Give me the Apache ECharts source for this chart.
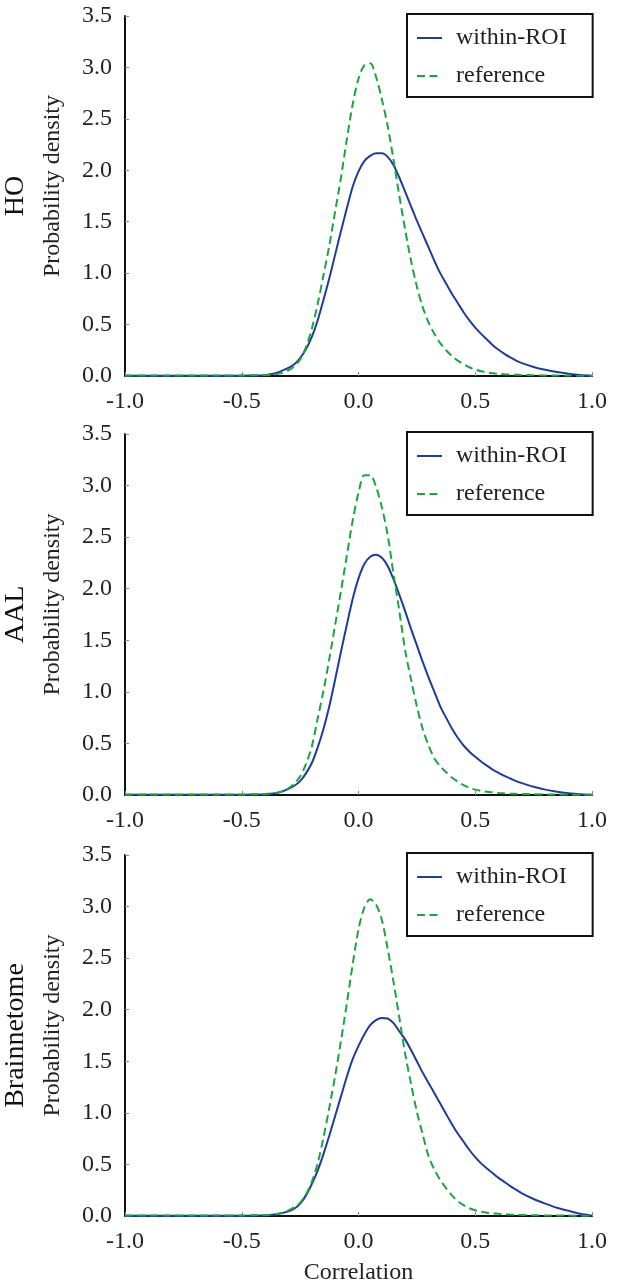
<!DOCTYPE html>
<html>
<head>
<meta charset="utf-8">
<script src="https://cdn.jsdelivr.net/npm/echarts@6/dist/echarts.min.js"></script>
<style>
html,body{margin:0;padding:0;background:#fff;}
#chart{width:618px;height:1284px;}
</style>
</head>
<body>
<div id="chart"></div>
<script>
// Shared correlation grid (x values)
const xs = [-1.0, -0.9, -0.8, -0.7, -0.6, -0.5, -0.45,
  -0.4, -0.375, -0.35, -0.325, -0.3, -0.275, -0.25, -0.225, -0.2, -0.175,
  -0.15, -0.125, -0.1, -0.075, -0.05, -0.025, 0, 0.025, 0.05, 0.075,
  0.1, 0.125, 0.15, 0.175, 0.2, 0.225, 0.25, 0.275, 0.3, 0.325,
  0.35, 0.375, 0.4, 0.425, 0.45, 0.475, 0.5, 0.525, 0.55, 0.575,
  0.6, 0.625, 0.65, 0.675, 0.7,
  0.75, 0.8, 0.85, 0.9, 0.95, 1.0];

const panelNames = ['HO', 'AAL', 'Brainnetome'];
const seriesNames = ['within-ROI', 'reference'];

const hoWithin = [0.003,0.003,0.003,0.003,0.003,0.003,0.004,
  0.008,0.018,0.032,0.055,0.08,0.115,0.175,0.26,0.38,0.54,
  0.74,0.95,1.18,1.41,1.63,1.84,1.99,2.09,2.14,2.165,
  2.165,2.13,2.05,1.93,1.79,1.65,1.51,1.38,1.25,1.12,
  1.00,0.90,0.80,0.71,0.62,0.54,0.47,0.41,0.355,0.30,
  0.255,0.215,0.18,0.15,0.125,
  0.088,0.06,0.038,0.022,0.01,0.002];
const hoRef = [0.005,0.005,0.005,0.005,0.005,0.005,0.007,
  0.01,0.013,0.02,0.033,0.055,0.095,0.16,0.28,0.46,0.70,
  0.98,1.27,1.60,1.93,2.30,2.64,2.89,3.02,3.04,2.91,
  2.69,2.43,2.10,1.75,1.42,1.12,0.87,0.67,0.52,0.41,
  0.32,0.25,0.195,0.15,0.115,0.085,0.062,0.046,0.035,0.027,
  0.021,0.017,0.014,0.012,0.01,
  0.008,0.006,0.005,0.004,0.003,0.003];

const aalWithin = [0.003,0.003,0.003,0.003,0.003,0.003,0.004,
  0.006,0.012,0.02,0.035,0.06,0.09,0.135,0.21,0.31,0.46,
  0.64,0.86,1.12,1.39,1.65,1.90,2.10,2.24,2.31,2.33,
  2.30,2.22,2.09,1.94,1.78,1.61,1.45,1.29,1.14,1.00,
  0.86,0.75,0.645,0.555,0.48,0.42,0.37,0.325,0.285,0.245,
  0.215,0.185,0.16,0.135,0.115,
  0.08,0.052,0.032,0.018,0.008,0.002];
const aalRef = [0.005,0.005,0.005,0.005,0.005,0.005,0.007,
  0.01,0.014,0.022,0.038,0.065,0.11,0.18,0.30,0.47,0.74,
  1.01,1.32,1.65,1.98,2.32,2.66,2.93,3.10,3.10,2.99,
  2.79,2.52,2.14,1.78,1.40,1.12,0.86,0.64,0.48,0.355,
  0.28,0.22,0.17,0.13,0.095,0.07,0.052,0.04,0.031,0.025,
  0.02,0.016,0.013,0.011,0.01,
  0.008,0.006,0.005,0.004,0.003,0.003];

const brWithin = [0.003,0.003,0.003,0.003,0.003,0.003,0.004,
  0.006,0.01,0.017,0.03,0.045,0.07,0.12,0.20,0.31,0.44,
  0.60,0.78,0.97,1.16,1.35,1.52,1.65,1.76,1.85,1.90,
  1.92,1.915,1.87,1.79,1.71,1.61,1.50,1.39,1.29,1.19,
  1.09,0.99,0.89,0.80,0.72,0.64,0.57,0.51,0.46,0.415,
  0.37,0.33,0.29,0.255,0.22,
  0.165,0.12,0.08,0.05,0.022,0.003];
const brRef = [0.005,0.005,0.005,0.005,0.005,0.005,0.007,
  0.01,0.013,0.02,0.033,0.055,0.085,0.13,0.21,0.33,0.51,
  0.76,1.05,1.36,1.70,2.06,2.44,2.78,2.99,3.07,3.02,
  2.87,2.59,2.27,1.92,1.57,1.28,1.01,0.79,0.58,0.45,
  0.35,0.27,0.20,0.145,0.105,0.075,0.055,0.042,0.032,0.026,
  0.021,0.017,0.014,0.012,0.01,
  0.008,0.006,0.005,0.004,0.003,0.003];

const panels = [[hoWithin, hoRef], [aalWithin, aalRef], [brWithin, brRef]];

const BLUE = '#1f3c9b';
const GREEN = '#1ba43f';
const FONT = '"Liberation Serif", "Times New Roman", serif';

const grids = [
  {left: 125, right: 26, top: 16, height: 360, outerBoundsMode: 'none'},
  {left: 125, right: 26, top: 434, height: 361, outerBoundsMode: 'none'},
  {left: 125, right: 26, top: 855, height: 361, outerBoundsMode: 'none'}
];

const fmt = v => v.toFixed(1);

const xAxes = grids.map((g, i) => ({
  gridIndex: i, type: 'value', min: -1, max: 1, interval: 0.5,
  axisLine: {show: true, onZero: false, lineStyle: {color: '#111', width: 2}},
  axisTick: {show: true, inside: true, length: 4, lineStyle: {color: '#888', width: 1}},
  axisLabel: {fontFamily: FONT, fontSize: 24, color: '#222', margin: 14, formatter: fmt},
  splitLine: {show: false},
  name: i === 2 ? 'Correlation' : '',
  nameLocation: 'middle', nameGap: 45,
  nameTextStyle: {fontFamily: FONT, fontSize: 24, color: '#222'}
}));

const yAxes = grids.map((g, i) => ({
  gridIndex: i, type: 'value', min: 0, max: 3.5, interval: 0.5,
  axisLine: {show: true, onZero: false, lineStyle: {color: '#111', width: 2}},
  axisTick: {show: true, inside: true, length: 4, lineStyle: {color: '#888', width: 1}},
  axisLabel: {fontFamily: FONT, fontSize: 24, color: '#222', margin: 13, formatter: fmt},
  splitLine: {show: false}
}));

const series = [];
panels.forEach((p, i) => {
  series.push({
    name: seriesNames[0], type: 'line', xAxisIndex: i, yAxisIndex: i,
    data: xs.map((x, k) => [x, p[0][k]]), showSymbol: false, symbol: 'none',
    smooth: 0.3, lineStyle: {color: BLUE, width: 2}, itemStyle: {color: BLUE}
  });
  series.push({
    name: seriesNames[1], type: 'line', xAxisIndex: i, yAxisIndex: i,
    data: xs.map((x, k) => [x, p[1][k]]), showSymbol: false, symbol: 'none',
    smooth: 0.3, lineStyle: {color: GREEN, width: 2, type: [8, 4.5]}, itemStyle: {color: GREEN}
  });
});

const legends = grids.map(g => ({
  data: seriesNames, orient: 'vertical', left: 407, top: g.top - 2,
  itemWidth: 25, itemHeight: 24, itemGap: 14,
  padding: [12, 26, 9, 9],
  borderColor: '#111', borderWidth: 2, borderRadius: 0,
  selectedMode: false,
  itemStyle: {opacity: 0},
  textStyle: {fontFamily: FONT, fontSize: 24, color: '#222', lineHeight: 24, padding: [0, 0, 0, 9]}
}));

const graphic = [];
grids.forEach((g, i) => {
  const cy = g.top + g.height / 2;
  graphic.push({
    type: 'text', x: 16, y: cy, rotation: Math.PI / 2,
    style: {text: panelNames[i], font: '28px ' + FONT, fill: '#111', textAlign: 'center', textVerticalAlign: 'middle'}
  });
  graphic.push({
    type: 'text', x: 53, y: cy - 10, rotation: Math.PI / 2,
    style: {text: 'Probability density', font: '24px ' + FONT, fill: '#222', textAlign: 'center', textVerticalAlign: 'middle'}
  });
});

const chart = echarts.init(document.getElementById('chart'), null, {renderer: 'canvas'});
chart.setOption({
  animation: false,
  backgroundColor: '#fff',
  grid: grids,
  xAxis: xAxes,
  yAxis: yAxes,
  legend: legends,
  series: series,
  graphic: graphic
});
</script>
</body>
</html>
